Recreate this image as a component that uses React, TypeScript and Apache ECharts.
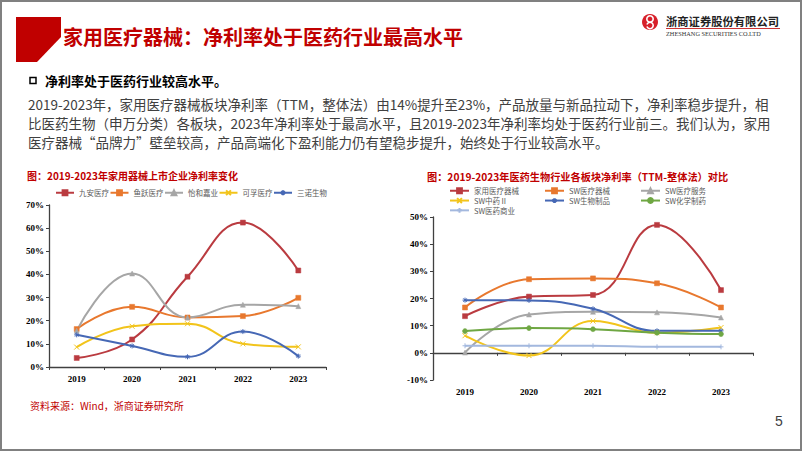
import React, { useEffect, useRef } from 'react';
import * as echarts from 'echarts';

const years = ['2019', '2020', '2021', '2022', '2023'];

const leftNames = ['九安医疗', '鱼跃医疗', '怡和嘉业', '可孚医疗', '三诺生物'];
const jiuan = [3.9, 11.9, 39.0, 62.4, 41.7];
const yuyue = [16.4, 26.0, 21.4, 22.0, 29.9];
const yihe = [15.7, 40.4, 21.4, 26.9, 26.3];
const kefu = [8.6, 17.6, 18.7, 10.0, 8.7];
const sannuo = [13.9, 9.1, 4.4, 15.3, 4.7];

const rightNames = ['家用医疗器械', 'SW医疗器械', 'SW医疗服务', 'SW中药Ⅱ', 'SW生物制品', 'SW化学制药', 'SW医药商业'];
const homeDevice = [13.5, 20.7, 21.3, 47.1, 23.1];
const swDevice = [16.7, 27.1, 27.4, 25.6, 16.7];
const swService = [0.1, 14.1, 15.1, 14.9, 13.0];
const swTcm = [6.3, -1.0, 11.7, 7.4, 9.3];
const swBio = [19.4, 19.3, 16.2, 8.1, 8.1];
const swChem = [8.0, 9.1, 8.7, 7.4, 6.9];
const swComm = [2.6, 2.6, 2.6, 2.2, 2.2];

const bodyLines = [
  '2019-2023年，家用医疗器械板块净利率（TTM，整体法）由14%提升至23%，产品放量与新品拉动下，净利率稳步提升，相',
  '比医药生物（申万分类）各板块，2023年净利率处于最高水平，且2019-2023年净利率均处于医药行业前三。我们认为，家用',
  '医疗器械“品牌力”壁垒较高，产品高端化下盈利能力仍有望稳步提升，始终处于行业较高水平。',
];

const RED = '#BA3B40';
const ORANGE = '#E8782E';
const GREY = '#A6A6A6';
const YELLOW = '#F2C41B';
const BLUE = '#4668B5';
const GREEN = '#6FA743';
const LIGHTBLUE = '#A3B8DE';
const BRAND = '#C00000';

const SYM_X = 'path://M0,0L10,10M10,0L0,10';
const SYM_STAR = 'path://M5,0L5,10M0,5L10,5M1.5,1.5L8.5,8.5M8.5,1.5L1.5,8.5';
const SYM_PLUS = 'path://M5,0L5,10M0,5L10,5';

const CJK = '"Noto Sans CJK SC", "Noto Sans", sans-serif';
const SERIF = '"Liberation Serif", "DejaVu Serif", serif';

function mkSeries(name: string, data: number[], color: string, symbol: string, idx: number, stroke = false) {
  return {
    name,
    type: 'line',
    xAxisIndex: idx,
    yAxisIndex: idx,
    data,
    smooth: 0.45,
    symbol,
    symbolSize: 5,
    lineStyle: { color, width: 2 },
    itemStyle: stroke
      ? { color: 'rgba(0,0,0,0)', borderColor: color, borderWidth: 1 }
      : { color, borderColor: color, borderWidth: 0.5 },
  };
}

function xAxisCfg(idx: number, margin: number) {
  return {
    type: 'category',
    gridIndex: idx,
    data: years,
    boundaryGap: true,
    axisLine: { show: true, onZero: true, lineStyle: { color: '#404040', width: 1.3 } },
    axisTick: { show: true, length: 3, lineStyle: { color: '#404040' } },
    axisLabel: { fontFamily: SERIF, fontWeight: 'bold', fontSize: 9, color: '#000', margin },
    splitLine: { show: false },
  };
}

function yAxisCfg(idx: number, min: number, max: number) {
  return {
    type: 'value',
    gridIndex: idx,
    min,
    max,
    interval: 10,
    axisLine: { show: true, lineStyle: { color: '#404040', width: 1.3 } },
    axisTick: { show: true, length: 3, lineStyle: { color: '#404040' } },
    axisLabel: { formatter: '{value}%', fontFamily: SERIF, fontWeight: 'bold', fontSize: 9, color: '#000', margin: 5 },
    splitLine: { show: false },
  };
}

const legendText = { fontFamily: CJK, fontSize: 7.5, color: '#595959' };

export default function App() {
  const ref = useRef<HTMLDivElement>(null);
  useEffect(() => {
    if (!ref.current) return;
    const chart = echarts.init(ref.current, null, { renderer: 'svg' });
    const graphics: any[] = [
      { type: 'rect', shape: { x: 1, y: 1, width: 800, height: 449 }, style: { fill: 'none', stroke: '#808080', lineWidth: 2 }, z: 100 },
      { type: 'polygon', shape: { points: [[16, 17], [61, 17], [61, 37], [37, 62], [16, 62]] }, style: { fill: BRAND } },
      { type: 'text', x: 63, y: 36, style: { text: '家用医疗器械：净利率处于医药行业最高水平', fontFamily: CJK, fontSize: 20, fontWeight: 'bold', fill: BRAND, textVerticalAlign: 'middle' } },
      // logo
      { type: 'circle', shape: { cx: 650, cy: 22, r: 8 }, style: { fill: '#D7202A' } },
      { type: 'arc', shape: { cx: 650, cy: 19, r: 3.2, startAngle: 0, endAngle: Math.PI * 2 }, style: { stroke: '#fff', lineWidth: 1.6, fill: 'none' } },
      { type: 'arc', shape: { cx: 650, cy: 25.5, r: 3.2, startAngle: Math.PI * 1.1, endAngle: Math.PI * 1.9 + Math.PI }, style: { stroke: '#fff', lineWidth: 1.6, fill: 'none' } },
      { type: 'text', x: 666, y: 20.5, style: { text: '浙商证券股份有限公司', fontFamily: CJK, fontSize: 11.3, fontWeight: 'bold', fill: '#222', textVerticalAlign: 'middle' } },
      { type: 'line', shape: { x1: 666, y1: 28.5, x2: 780, y2: 28.5 }, style: { stroke: BRAND, lineWidth: 0.8 } },
      { type: 'text', x: 666, y: 33.5, style: { text: 'ZHESHANG SECURITIES CO.LTD', fontFamily: SERIF, fontSize: 6.3, fill: '#333', textVerticalAlign: 'middle' } },
      // section header
      { type: 'rect', shape: { x: 30, y: 77.5, width: 6, height: 6 }, style: { fill: 'none', stroke: '#000', lineWidth: 1.5 } },
      { type: 'text', x: 45, y: 80.5, style: { text: '净利率处于医药行业较高水平。', fontFamily: CJK, fontSize: 13, fontWeight: 'bold', fill: '#000', textVerticalAlign: 'middle' } },
      ...bodyLines.map((t, i) => ({
        type: 'text', x: 28, y: 104 + i * 19,
        style: { text: t, fontFamily: CJK, fontSize: 13.5, fill: '#404040', textVerticalAlign: 'middle' },
      })),
      { type: 'text', x: 27, y: 175, style: { text: '图：2019-2023年家用器械上市企业净利率变化', fontFamily: CJK, fontSize: 10, fontWeight: 'bold', fill: BRAND, textVerticalAlign: 'middle' } },
      { type: 'text', x: 427, y: 176, style: { text: '图：2019-2023年医药生物行业各板块净利率（TTM-整体法）对比', fontFamily: CJK, fontSize: 10.2, fontWeight: 'bold', fill: BRAND, textVerticalAlign: 'middle' } },
      { type: 'text', x: 30, y: 405, style: { text: '资料来源：Wind，浙商证券研究所', fontFamily: CJK, fontSize: 10, fill: BRAND, textVerticalAlign: 'middle' } },
      { type: 'text', x: 779, y: 421, style: { text: '5', fontFamily: '"Liberation Sans", Arial, sans-serif', fontSize: 14, fill: '#404040', textVerticalAlign: 'middle', textAlign: 'center' } },
    ];

    chart.setOption({
      animation: false,
      backgroundColor: '#fff',
      textStyle: { fontFamily: CJK },
      grid: [
        { left: 49, top: 205, width: 277, height: 162 },
        { left: 433, top: 217, width: 320, height: 163 },
      ],
      xAxis: [xAxisCfg(0, 7), xAxisCfg(1, 7)],
      yAxis: [yAxisCfg(0, 0, 70), yAxisCfg(1, -10, 50)],
      legend: [
        { data: leftNames, left: 55, top: 189, itemWidth: 18, itemHeight: 6, itemGap: 0.5, textStyle: legendText, padding: 0 },
        { data: ['家用医疗器械', 'SW中药Ⅱ', 'SW医药商业'], orient: 'vertical', left: 449, top: 187, itemWidth: 19, itemHeight: 6, itemGap: 2.3, textStyle: legendText, padding: 0 },
        { data: ['SW医疗器械', 'SW生物制品'], orient: 'vertical', left: 544, top: 187, itemWidth: 19, itemHeight: 6, itemGap: 2.3, textStyle: legendText, padding: 0 },
        { data: ['SW医疗服务', 'SW化学制药'], orient: 'vertical', left: 640, top: 187, itemWidth: 19, itemHeight: 6, itemGap: 2.3, textStyle: legendText, padding: 0 },
      ],
      series: [
        mkSeries(leftNames[0], jiuan, RED, 'rect', 0),
        mkSeries(leftNames[1], yuyue, ORANGE, 'rect', 0),
        mkSeries(leftNames[2], yihe, GREY, 'triangle', 0),
        mkSeries(leftNames[3], kefu, YELLOW, SYM_X, 0, true),
        mkSeries(leftNames[4], sannuo, BLUE, SYM_STAR, 0, true),
        mkSeries(rightNames[0], homeDevice, RED, 'rect', 1),
        mkSeries(rightNames[1], swDevice, ORANGE, 'rect', 1),
        mkSeries(rightNames[2], swService, GREY, 'triangle', 1),
        mkSeries(rightNames[3], swTcm, YELLOW, SYM_X, 1, true),
        mkSeries(rightNames[4], swBio, BLUE, SYM_STAR, 1, true),
        mkSeries(rightNames[5], swChem, GREEN, 'circle', 1),
        mkSeries(rightNames[6], swComm, LIGHTBLUE, SYM_PLUS, 1, true),
      ],
      graphic: graphics,
    });
    return () => chart.dispose();
  }, []);
  return <div ref={ref} style={{ position: 'fixed', left: 0, top: 0, width: 802, height: 451 }} />;
}
